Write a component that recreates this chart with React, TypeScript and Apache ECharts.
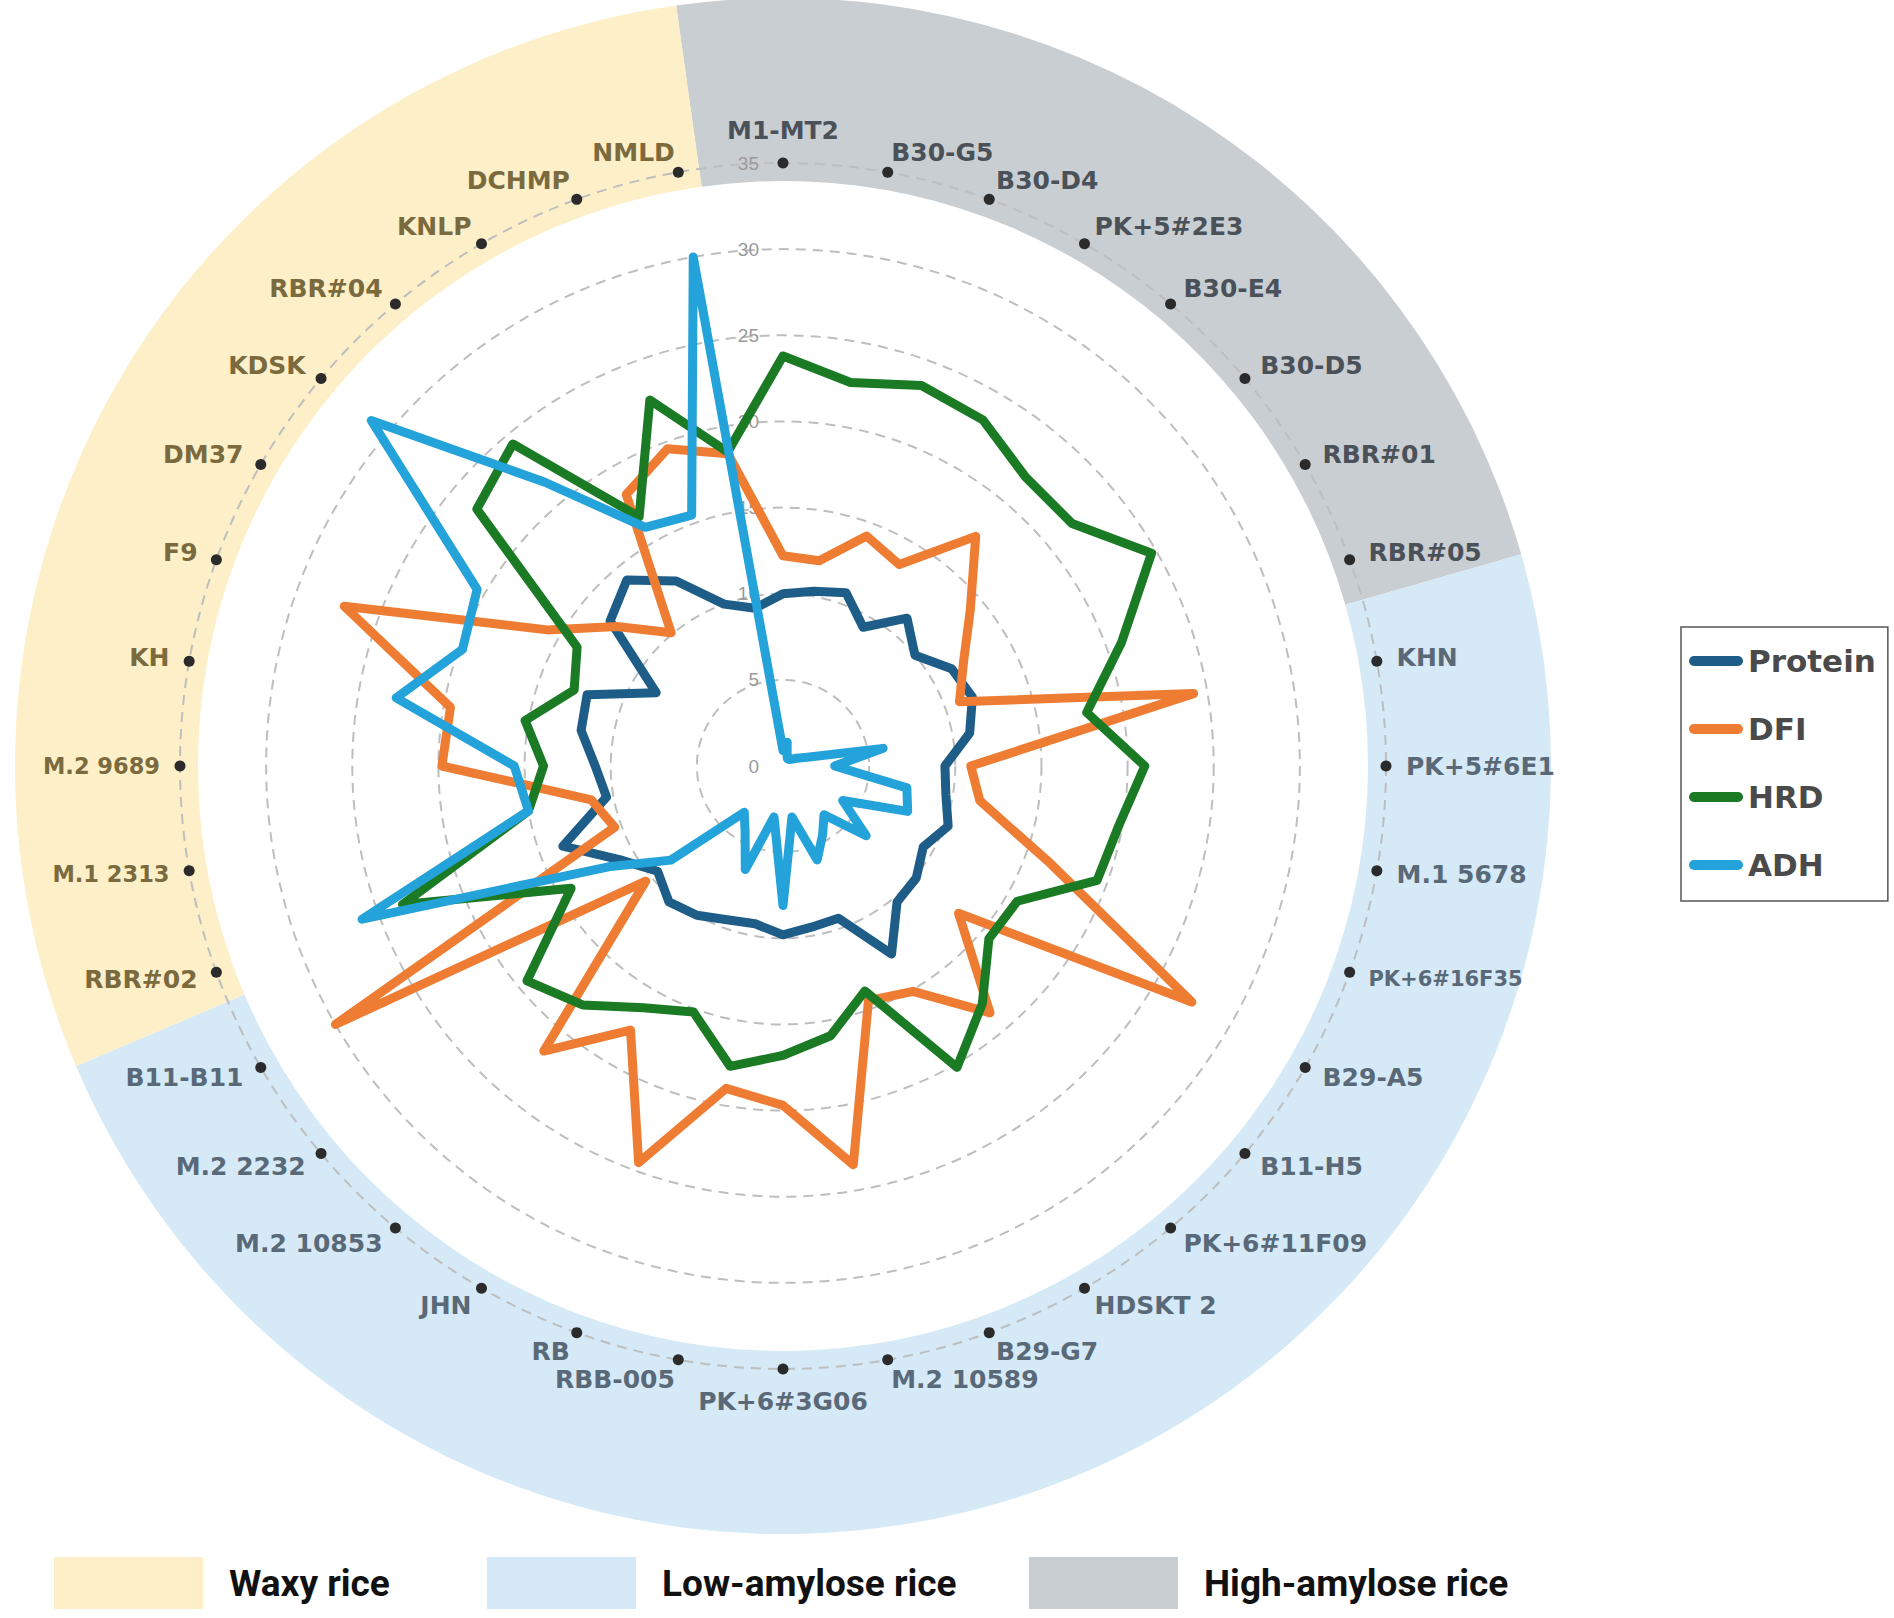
import React, { useEffect, useRef } from "react";
import * as echarts from "echarts";

// ---- categories (clockwise from top), grouped by rice type ----
const highAmylose = ["M1-MT2", "B30-G5", "B30-D4", "PK+5#2E3", "B30-E4", "B30-D5", "RBR#01", "RBR#05"];
const lowAmylose = [
  "KHN", "PK+5#6E1", "M.1 5678", "PK+6#16F35", "B29-A5", "B11-H5", "PK+6#11F09", "HDSKT 2",
  "B29-G7", "M.2 10589", "PK+6#3G06", "RBB-005", "RB", "JHN", "M.2 10853", "M.2 2232", "B11-B11",
];
const waxy = ["RBR#02", "M.1 2313", "M.2 9689", "KH", "F9", "DM37", "KDSK", "RBR#04", "KNLP", "DCHMP", "NMLD"];
const categories = [...highAmylose, ...lowAmylose, ...waxy];

// ---- series values (same order as categories) ----
const protein = [
  10.0, 10.3, 10.7, 9.3, 11.2, 10.0, 11.3, 11.7, 11.0, 9.4, 9.6, 10.2, 9.4, 10.1, 10.3, 12.6, 9.4, 9.5,
  9.8, 9.3, 9.5, 10.0, 10.3, 9.5, 10.9, 13.6, 10.4, 10.9, 11.9, 12.1, 8.5, 13.1, 14.1, 12.4, 10.0, 9.3,
];
const dfi = [
  12.2, 12.1, 14.2, 13.5, 17.4, 14.2, 12.1, 10.9, 24.2, 10.9, 11.6, 16.5, 27.4, 13.3, 18.7, 15.1, 14.5, 23.5,
  19.7, 19.0, 24.5, 17.7, 21.6, 10.4, 30.0, 10.4, 11.3, 19.8, 19.6, 27.1, 15.8, 12.6, 10.1, 18.2, 19.6, 18.4,
];
const hrd = [
  23.8, 22.6, 23.5, 23.2, 21.9, 21.9, 24.7, 20.9, 17.9, 21.0, 19.8, 19.4, 15.7, 15.6, 18.0, 20.2, 13.9, 15.9,
  16.8, 17.7, 15.2, 16.2, 18.1, 19.4, 14.2, 23.5, 15.0, 13.9, 15.2, 12.9, 13.8, 23.2, 24.4, 16.7, 22.6, 18.5,
];
const adh = [
  0.9, 1.4, 0.7, 0.5, 0.5, 0.6, 0.9, 1.5, 5.9, 3.0, 7.3, 7.7, 4.0, 6.3, 3.7, 4.6, 5.8, 3.0,
  8.1, 3.0, 6.4, 4.4, 3.5, 8.5, 11.7, 26.0, 15.0, 15.6, 22.8, 19.8, 20.5, 31.2, 21.5, 16.0, 15.5, 30.0,
];

const seriesNames = ["Protein", "DFI", "HRD", "ADH"];
const seriesValues = [protein, dfi, hrd, adh];
const seriesColors = ["#1D5D87", "#EE7D33", "#1B7A24", "#24A2DA"];

// ---- radial axis ----
const axisMin = 0;
const axisMax = 35;
const axisSplits = 7; // ticks 0,5,...,35

// ---- outer group band ----
const bandNames = ["High-amylose rice", "Low-amylose rice", "Waxy rice"];
const bandSpans = [82, 173, 105]; // degrees of the ring covered by each group
const bandColors = ["#C9CED3", "#D5E9F7", "#FDF0C8"];
const bandLabelColors = ["#4B5158", "#5A6978", "#7A6A3E"];
const bandLegendOrder = ["Waxy rice", "Low-amylose rice", "High-amylose rice"];
const bandLegendLeft = [54, 487, 1029];

const smallLabels = ["M.1 2313", "M.2 9689"];
const tinyLabels = ["PK+6#16F35"];

export default function App() {
  const ref = useRef<HTMLDivElement>(null);

  useEffect(() => {
    document.body.style.margin = "0";
    const chart = echarts.init(ref.current as HTMLDivElement, null, { renderer: "svg" });

    const n = categories.length;
    // ECharts radar lays indicators counter-clockwise; reorder so categories run clockwise
    const order = [0, ...Array.from({ length: n - 1 }, (_, i) => n - 1 - i)];
    const reorder = (arr: number[]) => order.map((i) => arr[i]);
    const groupIndex = (name: string) =>
      highAmylose.includes(name) ? 0 : lowAmylose.includes(name) ? 1 : 2;

    const indicator = order.map((ci, k) => {
      const name = categories[ci];
      const ind: any = { name, min: axisMin, max: axisMax, color: bandLabelColors[groupIndex(name)] };
      if (k === 0) {
        ind.axisLabel = {
          show: true,
          color: "#9A9A9A",
          fontSize: 19,
          margin: 24,
          fontFamily: "Liberation Sans",
        };
      }
      return ind;
    });

    const center = [783, 766];
    const capsule = "path://M5 0H49A5 5 0 0 1 49 10H5A5 5 0 0 1 5 0Z";
    const labelFont = "DejaVu Sans";

    const option: any = {
      animation: false,
      color: seriesColors,
      radar: {
        center,
        radius: 603,
        startAngle: 90,
        shape: "circle",
        splitNumber: axisSplits,
        axisNameGap: 20,
        axisName: {
          fontFamily: labelFont,
          fontWeight: "bold",
          fontSize: 25,
          formatter: (name: string) =>
            tinyLabels.includes(name) ? `{t|${name}}` : smallLabels.includes(name) ? `{s|${name}}` : `{n|${name}}`,
          rich: {
            n: { fontFamily: labelFont, fontWeight: "bold", fontSize: 25 },
            s: { fontFamily: labelFont, fontWeight: "bold", fontSize: 22.5 },
            t: { fontFamily: labelFont, fontWeight: "bold", fontSize: 21 },
          },
        },
        splitLine: { lineStyle: { color: "#BEBEBE", width: 2, type: [10, 7] } },
        splitArea: { show: false },
        axisLine: { show: false },
        axisTick: { show: false },
        axisLabel: { show: false },
        indicator,
      },
      legend: [
        {
          data: seriesNames.map((name, i) => ({
            name,
            icon: capsule,
            itemStyle: { color: seriesColors[i], borderWidth: 0 },
          })),
          orient: "vertical",
          left: 1681,
          top: 627,
          itemWidth: 54,
          itemHeight: 10,
          itemGap: 32,
          selectedMode: false,
          borderColor: "#555555",
          borderWidth: 1.5,
          padding: [16, 12, 18, 8],
          textStyle: {
            fontFamily: labelFont,
            fontWeight: "bold",
            fontSize: 31,
            lineHeight: 36,
            color: "#4A4A4A",
          },
        },
        ...bandLegendOrder.map((name, i) => ({
          data: [name],
          left: bandLegendLeft[i],
          top: 1557,
          icon: "rect",
          itemWidth: 149,
          itemHeight: 52,
          selectedMode: false,
          padding: 0,
          textStyle: {
            fontFamily: "Roboto",
            fontWeight: "bold",
            fontSize: 37,
            color: "#111111",
            padding: [0, 0, 0, 21],
          },
        })),
      ],
      series: [
        {
          type: "pie",
          z: -1,
          silent: true,
          center,
          radius: [585, 768],
          startAngle: 98,
          clockwise: true,
          label: { show: false },
          labelLine: { show: false },
          emphasis: { disabled: true },
          data: bandNames.map((name, i) => ({
            name,
            value: bandSpans[i],
            itemStyle: { color: bandColors[i] },
          })),
        },
        ...seriesNames.map((name, i) => ({
          type: "radar",
          symbol: "none",
          silent: true,
          data: [
            {
              name,
              value: reorder(seriesValues[i]),
              lineStyle: { color: seriesColors[i], width: 9, cap: "round", join: "round" },
              itemStyle: { color: seriesColors[i] },
            },
          ],
        })),
        {
          type: "radar",
          silent: true,
          symbol: "circle",
          symbolSize: 11,
          data: [
            {
              name: "ring",
              value: order.map(() => axisMax),
              lineStyle: { opacity: 0, width: 0 },
              itemStyle: { color: "#2B2B2B" },
            },
          ],
        },
      ],
    };

    chart.setOption(option);
    return () => chart.dispose();
  }, []);

  return <div ref={ref} style={{ width: 1894, height: 1618 }} />;
}
